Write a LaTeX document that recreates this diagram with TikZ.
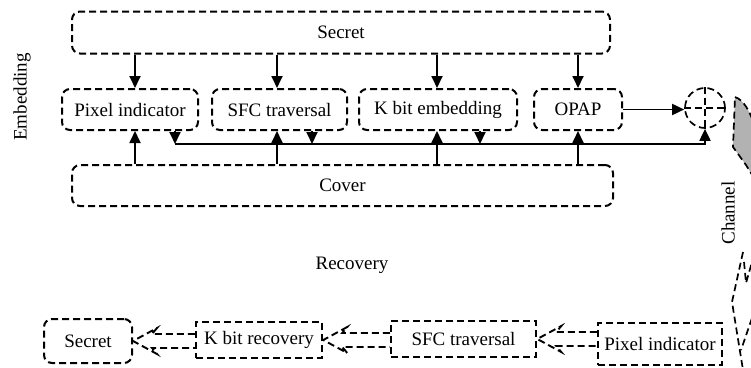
\documentclass[tikz,border=0pt]{standalone}
\usepackage{fontspec}
\setmainfont{Liberation Serif}
\usetikzlibrary{arrows.meta,calc}
\begin{document}
\begin{tikzpicture}[x=1pt,y=-1pt,
  txt/.style={font=\fontsize{19}{22}\selectfont, inner sep=0pt},
  dsh/.style={dash pattern=on 7pt off 4pt, line width=2pt},
  rbox/.style={txt, draw, dsh, rounded corners=8pt},
  sbox/.style={txt, draw, dsh, line width=2.5pt},
  arr/.style={line width=1.8pt, -{Triangle[length=12pt,width=11pt]}},
  hol/.style={dsh, line width=1.9pt, line join=miter}
]
\useasboundingbox (0,0) rectangle (751,367);

% top row
\node[rbox, minimum width=538pt, minimum height=42pt] (secret) at (341,32.5) {Secret};
\node[rbox, minimum width=136pt, minimum height=41pt] (pix) at (130,109.5) {Pixel indicator};
\node[rbox, minimum width=135pt, minimum height=41pt] (sfc) at (279.5,109.5) {SFC traversal};
\node[rbox, minimum width=158pt, minimum height=41pt] (kbit) at (438,109.5) {K bit embedding};
\node[rbox, minimum width=88pt, minimum height=41pt] (opap) at (578,109.5) {OPAP};
\node[rbox, minimum width=541pt, minimum height=41pt] (cover) at (342.5,185.5) {Cover};

% xor
\node[draw, dsh, line width=1.7pt, circle, minimum size=40pt, inner sep=0pt] (xor) at (705,108) {};
\draw[dsh, line width=1.7pt] (xor.west) -- (xor.east);
\draw[dsh, line width=1.7pt] (xor.north) -- (xor.south);

% labels
\node[txt, rotate=90] (emb) at (22,97) {Embedding};
\node[txt] (rec) at (352,265) {Recovery};
\node[txt, rotate=90] (chan) at (728,213) {Channel};

% vertical arrow positions
\coordinate (c1) at (135,0);
\coordinate (c2) at (277,0);
\coordinate (c3) at (437,0);
\coordinate (c4) at (578,0);
\foreach \c/\n in {c1/pix, c2/sfc, c3/kbit, c4/opap} {
  \draw[arr] (secret.south -| \c) -- (\n.north -| \c);
  \draw[arr] (cover.north -| \c) -- (\n.south -| \c);
}

% bus
\coordinate (b1) at (175,144);
\coordinate (b2) at (312,144);
\coordinate (b3) at (480,144);
\draw[arr] (pix.south -| b1) -- (b1);
\draw[arr] (sfc.south -| b2) -- (b2);
\draw[arr] (kbit.south -| b3) -- (b3);
\draw[arr] (b1) -- (b1 -| xor.south) -- (xor.south);
\draw[arr] (opap.east) -- (opap.east -| xor.west);

% channel shapes
\draw[dsh, line width=1.7pt, fill=black!30] (735,97) .. controls (744,100) and (750,112) .. (754,124) -- (754,178) -- (746,165) -- (733,147) -- cycle;
\draw[dsh, line width=1.7pt] (743,252) -- (732,302) -- (743,370);
\draw[dsh, line width=1.7pt] (744,262) -- (746,283) -- (752,262);
\draw[dsh, line width=1.7pt] (752,318) -- (741,350);

% bottom row
\node[rbox, minimum width=88pt, minimum height=44pt] (bsec) at (88,341) {Secret};
\node[sbox, minimum width=126pt, minimum height=36pt] (krec) at (259,340) {K bit recovery};
\node[sbox, minimum width=145pt, minimum height=36pt] (bsfc) at (463.5,339) {SFC traversal};
\node[sbox, minimum width=124pt, minimum height=42pt] (bpix) at (660,344) {Pixel indicator};

\newcommand{\harrow}[2]{%
  \draw[hol] let \p1=(#1), \p2=(#2) in
    (\x1,\y2+7pt) -- (\x2+19pt,\y2+7pt) -- (\x2+24pt,\y2+13pt) -- (\x2,\y2) --
    (\x2+24pt,\y2-13pt) -- (\x2+19pt,\y2-7pt) -- (\x1,\y2-7pt);}
\harrow{krec.west}{bsec.east}
\harrow{bsfc.west}{krec.east}
\harrow{bpix.west}{bsfc.east}
\end{tikzpicture}
\end{document}
